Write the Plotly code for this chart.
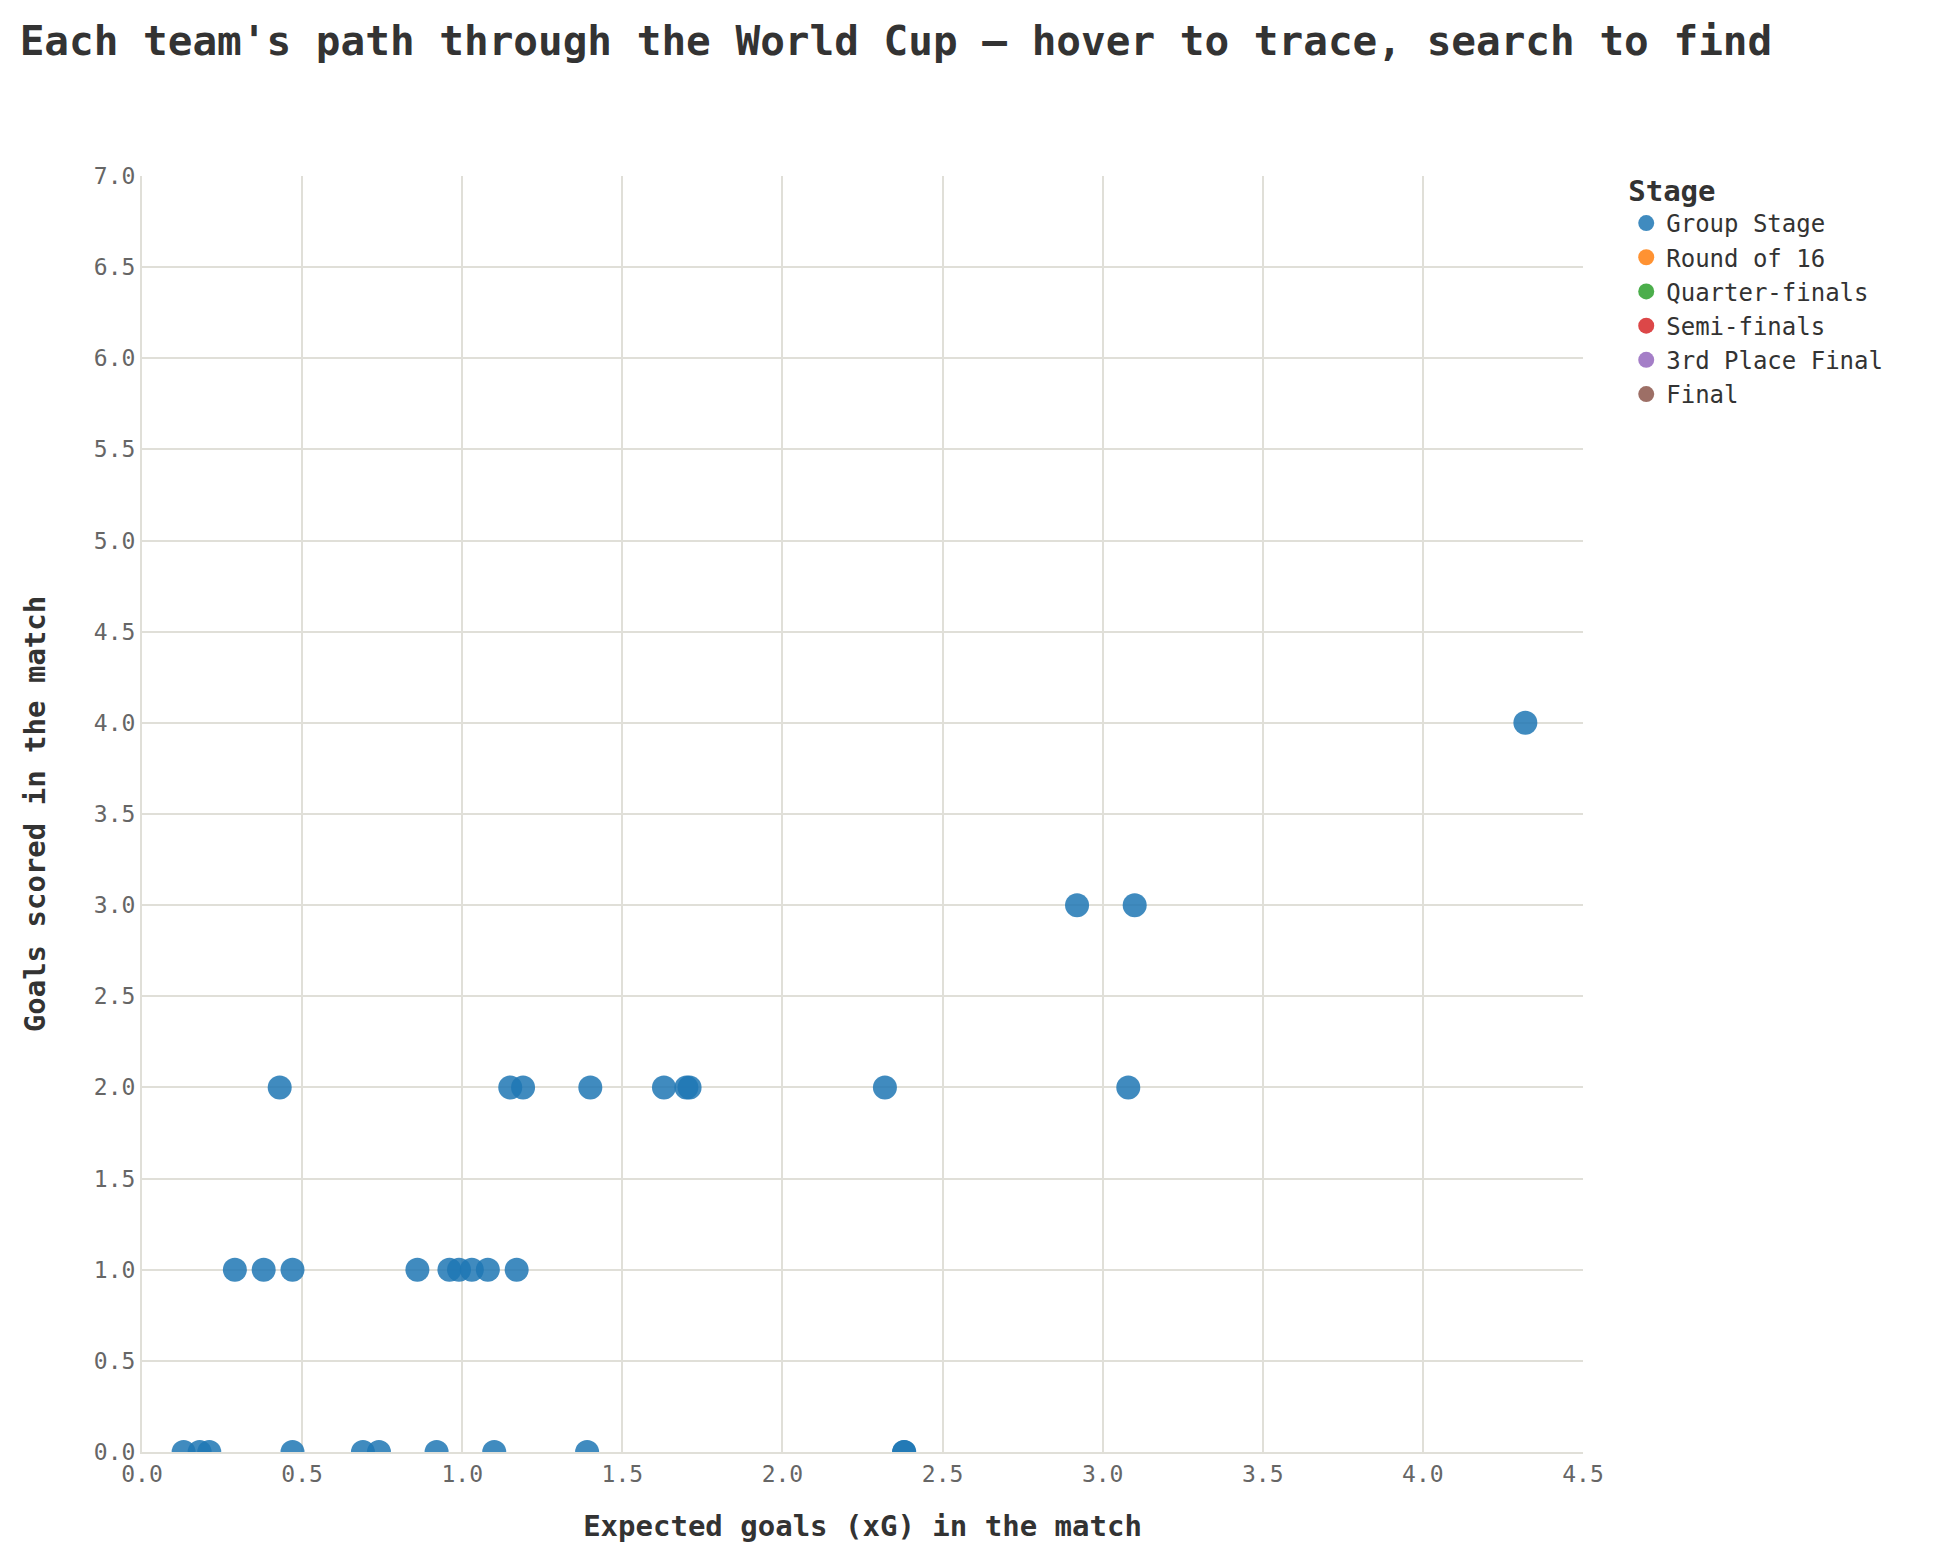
import plotly.graph_objects as go

# Group Stage matches: xG vs goals scored
xg_0 = [0.13, 0.18, 0.21, 0.47, 0.69, 0.74, 0.92, 1.10, 1.39, 2.38, 2.38]
xg_1 = [0.29, 0.38, 0.47, 0.86, 0.96, 0.99, 1.03, 1.08, 1.17]
xg_2 = [0.43, 1.15, 1.19, 1.40, 1.63, 1.70, 1.71, 2.32, 3.08]
xg_3 = [2.92, 3.10]
xg_4 = [4.32]

group_x = xg_0 + xg_1 + xg_2 + xg_3 + xg_4
group_y = [0] * len(xg_0) + [1] * len(xg_1) + [2] * len(xg_2) + [3] * len(xg_3) + [4] * len(xg_4)

stages = ["Group Stage", "Round of 16", "Quarter-finals", "Semi-finals", "3rd Place Final", "Final"]
colors = ["#1f77b4", "#ff7f0e", "#2ca02c", "#d62728", "#9467bd", "#8c564b"]

font = "DejaVu Sans Mono"
fig = go.Figure()
for stage, col in zip(stages, colors):
    if stage == "Group Stage":
        xs, ys = group_x, group_y
    else:
        xs, ys = [None], [None]
    fig.add_trace(go.Scatter(x=xs, y=ys, mode="markers", name=stage,
                             marker=dict(color=col, size=24, opacity=0.85)))

fig.update_layout(
    width=1941, height=1563,
    paper_bgcolor="white", plot_bgcolor="white",
    font=dict(family=font, size=23, color="#333"),
    title=dict(text="<b>Each team's path through the World Cup — hover to trace, search to find</b>",
               x=0.006, y=0.988, font=dict(size=41, color="#333")),
    margin=dict(l=134, r=366, t=168, b=119),
    legend=dict(title=dict(text="<b>Stage</b>"), font=dict(size=24), x=1.03, y=1.01,
                yanchor="top", tracegroupgap=4),
    xaxis=dict(title=dict(text="<b>Expected goals (xG) in the match</b>", font=dict(size=29), standoff=30),
               range=[0, 4.5], dtick=0.5, tickformat=".1f", showgrid=True, gridcolor="#e0dfd8",
               gridwidth=2, showline=True, linecolor="#e0dfd8", linewidth=2, zeroline=False,
               ticks="", tickfont=dict(color="#666")),
    yaxis=dict(title=dict(text="<b>Goals scored in the match</b>", font=dict(size=29), standoff=40),
               range=[0, 7], dtick=0.5, tickformat=".1f", showgrid=True, gridcolor="#e0dfd8",
               gridwidth=2, showline=True, linecolor="#e0dfd8", linewidth=2, zeroline=False,
               ticks="", tickfont=dict(color="#666")),
)
fig.write_html("out.html")
